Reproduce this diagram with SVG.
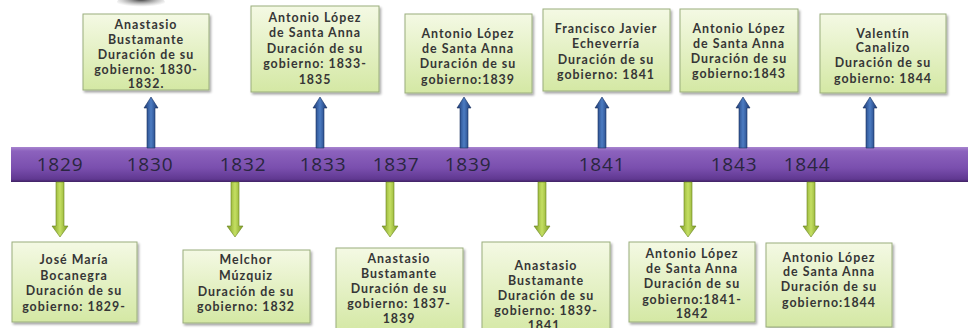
<svg xmlns="http://www.w3.org/2000/svg" width="968" height="328" viewBox="0 0 968 328">
<style>
.box{fill:url(#gBox);stroke:#9aad7c;stroke-width:1;filter:url(#sh)}
.t{font-family:Lato,"Open Sans",sans-serif;font-weight:700;font-size:12.4px;letter-spacing:1px;fill:#363636;text-anchor:middle;dominant-baseline:central}
.yr{font-family:"Open Sans","Noto Sans",sans-serif;font-size:19px;letter-spacing:0.8px;fill:#2a2640;text-anchor:middle;dominant-baseline:central}
.up{fill:url(#gBlue);stroke:#17305f;stroke-width:0.6}
.dn{fill:url(#gGreen);stroke:#6a8520;stroke-width:0.6}
</style>
<defs>
<linearGradient id="gBox" x1="0" y1="0" x2="0" y2="1">
<stop offset="0" stop-color="#f4f9e4"/>
<stop offset="1" stop-color="#d4e8a4"/>
</linearGradient>
<linearGradient id="gBar" x1="0" y1="0" x2="0" y2="1">
<stop offset="0" stop-color="#a784cf"/>
<stop offset="0.12" stop-color="#8c62bd"/>
<stop offset="0.6" stop-color="#7a4fae"/>
<stop offset="0.92" stop-color="#603891"/>
<stop offset="1" stop-color="#3f2263"/>
</linearGradient>
<linearGradient id="gBlue" x1="0" y1="0" x2="1" y2="0">
<stop offset="0" stop-color="#1a3670"/>
<stop offset="0.5" stop-color="#4c7cc2"/>
<stop offset="1" stop-color="#1a3670"/>
</linearGradient>
<linearGradient id="gGreen" x1="0" y1="0" x2="1" y2="0">
<stop offset="0" stop-color="#7c9a22"/>
<stop offset="0.5" stop-color="#c4df62"/>
<stop offset="1" stop-color="#7c9a22"/>
</linearGradient>
<radialGradient id="gBlob" cx="0.5" cy="0.3" r="0.6">
<stop offset="0" stop-color="#3c3c3c"/>
<stop offset="1" stop-color="#9a9a9a" stop-opacity="0"/>
</radialGradient>
<filter id="sh" x="-10%" y="-10%" width="125%" height="125%">
<feDropShadow dx="1.5" dy="2" stdDeviation="1.3" flood-color="#000" flood-opacity="0.35"/>
</filter>
<path id="aUp" d="M0,0 L7,11 L4,11 L4,51 L-4,51 L-4,11 L-7,11 Z"/>
<path id="aDn" d="M-4,0 L4,0 L4,44 L8,44 L0,55 L-8,44 L-4,44 Z"/>
</defs>
<rect width="968" height="328" fill="#ffffff"/>
<ellipse cx="141" cy="2" rx="24" ry="6" fill="url(#gBlob)"/>

<g id="timeline">
<rect x="11" y="147" width="960" height="35" fill="url(#gBar)"/>
<text class="yr" x="60" y="164">1829</text>
<text class="yr" x="150" y="164">1830</text>
<text class="yr" x="243" y="164">1832</text>
<text class="yr" x="323" y="164">1833</text>
<text class="yr" x="396" y="164">1837</text>
<text class="yr" x="468" y="164">1839</text>
<text class="yr" x="602" y="164">1841</text>
<text class="yr" x="734" y="164">1843</text>
<text class="yr" x="807" y="164">1844</text>
</g>

<g id="connectors">
<use href="#aUp" class="up" x="151" y="97"/>
<use href="#aUp" class="up" x="320" y="97"/>
<use href="#aUp" class="up" x="464" y="97"/>
<use href="#aUp" class="up" x="602" y="97"/>
<use href="#aUp" class="up" x="743" y="97"/>
<use href="#aUp" class="up" x="870" y="97"/>
<use href="#aDn" class="dn" x="60" y="182"/>
<use href="#aDn" class="dn" x="235" y="182"/>
<use href="#aDn" class="dn" x="390" y="182"/>
<use href="#aDn" class="dn" x="542" y="182"/>
<use href="#aDn" class="dn" x="688" y="182"/>
<use href="#aDn" class="dn" x="811" y="182"/>
</g>

<g id="n1830">
<rect class="box" x="83" y="14" width="126" height="76"/>
<text class="t" x="146" y="24">Anastasio</text>
<text class="t" x="146" y="39">Bustamante</text>
<text class="t" x="146" y="54">Duración de su</text>
<text class="t" x="146" y="69">gobierno: 1830-</text>
<text class="t" x="146" y="83">1832.</text>
</g>
<g id="n1833">
<rect class="box" x="251" y="6" width="128" height="86"/>
<text class="t" x="315" y="17">Antonio López</text>
<text class="t" x="315" y="32">de Santa Anna</text>
<text class="t" x="315" y="48">Duración de su</text>
<text class="t" x="315" y="63">gobierno: 1833-</text>
<text class="t" x="315" y="79">1835</text>
</g>
<g id="n1839">
<rect class="box" x="405" y="14" width="127" height="79"/>
<text class="t" x="468" y="33">Antonio López</text>
<text class="t" x="468" y="48">de Santa Anna</text>
<text class="t" x="468" y="63">Duración de su</text>
<text class="t" x="468" y="79">gobierno:1839</text>
</g>
<g id="n1841">
<rect class="box" x="543" y="9" width="127" height="82"/>
<text class="t" x="606" y="28">Francisco Javier</text>
<text class="t" x="606" y="43">Echeverría</text>
<text class="t" x="606" y="59">Duración de su</text>
<text class="t" x="606" y="74">gobierno: 1841</text>
</g>
<g id="n1843">
<rect class="box" x="680" y="9" width="118" height="83"/>
<text class="t" x="739" y="28">Antonio López</text>
<text class="t" x="739" y="43">de Santa Anna</text>
<text class="t" x="739" y="58">Duración de su</text>
<text class="t" x="739" y="73">gobierno:1843</text>
</g>
<g id="n1844">
<rect class="box" x="820" y="14" width="126" height="79"/>
<text class="t" x="883" y="33">Valentín</text>
<text class="t" x="883" y="47">Canalizo</text>
<text class="t" x="883" y="62">Duración de su</text>
<text class="t" x="883" y="78">gobierno: 1844</text>
</g>

<g id="n1829">
<rect class="box" x="12" y="242" width="125" height="80"/>
<text class="t" x="74" y="259">José María</text>
<text class="t" x="74" y="275">Bocanegra</text>
<text class="t" x="74" y="290">Duración de su</text>
<text class="t" x="74" y="306">gobierno: 1829-</text>
</g>
<g id="n1832">
<rect class="box" x="183" y="250" width="127" height="73"/>
<text class="t" x="246" y="259">Melchor</text>
<text class="t" x="246" y="275">Múzquiz</text>
<text class="t" x="246" y="291">Duración de su</text>
<text class="t" x="246" y="306">gobierno: 1832</text>
</g>
<g id="n1837">
<rect class="box" x="336" y="248" width="127" height="84"/>
<text class="t" x="399" y="258">Anastasio</text>
<text class="t" x="399" y="273">Bustamante</text>
<text class="t" x="399" y="288">Duración de su</text>
<text class="t" x="399" y="303">gobierno: 1837-</text>
<text class="t" x="399" y="318">1839</text>
</g>
<g id="n1839b">
<rect class="box" x="482" y="242" width="128" height="94"/>
<text class="t" x="546" y="265">Anastasio</text>
<text class="t" x="546" y="280">Bustamante</text>
<text class="t" x="546" y="295">Duración de su</text>
<text class="t" x="546" y="310">gobierno: 1839-</text>
<text class="t" x="546" y="325">1841.</text>
</g>
<g id="n1841b">
<rect class="box" x="629" y="242" width="126" height="80"/>
<text class="t" x="692" y="253">Antonio López</text>
<text class="t" x="692" y="268">de Santa Anna</text>
<text class="t" x="692" y="283">Duración de su</text>
<text class="t" x="692" y="299">gobierno:1841-</text>
<text class="t" x="692" y="313">1842</text>
</g>
<g id="n1844b">
<rect class="box" x="766" y="243" width="126" height="84"/>
<text class="t" x="829" y="257">Antonio López</text>
<text class="t" x="829" y="271">de Santa Anna</text>
<text class="t" x="829" y="286">Duración de su</text>
<text class="t" x="829" y="302">gobierno:1844</text>
</g>
</svg>
